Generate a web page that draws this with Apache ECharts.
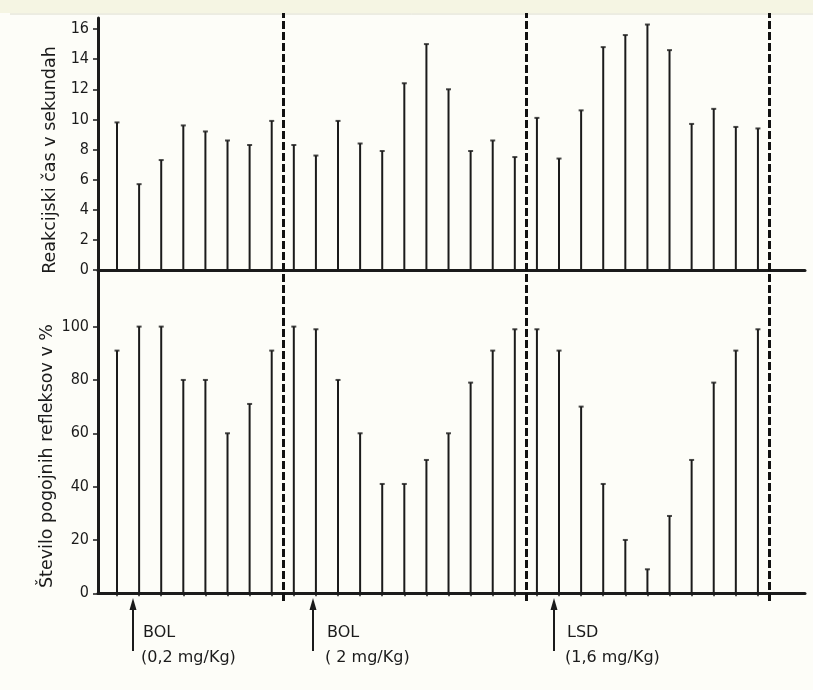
<!DOCTYPE html>
<html><head><meta charset="utf-8">
<script src="https://cdn.jsdelivr.net/npm/echarts@6/dist/echarts.min.js"></script>
<style>html,body{margin:0;padding:0;background:#fdfdf8}#c{width:813px;height:690px}</style>
</head><body><div id="c"></div>
<script>
// trial numbers (one stem per trial)
const trials = [1,2,3,4,5,6,7,8,9,10,11,12,13,14,15,16,17,18,19,20,21,22,23,24,25,26,27,28,29,30];
// Reakcijski čas v sekundah
const reactionTime = [9.8,5.7,7.3,9.6,9.2,8.6,8.3,9.9, 8.3,7.6,9.9,8.4,7.9,12.4,15.0,12.0,7.9,8.6,7.5, 10.1,7.4,10.6,14.8,15.6,16.3,14.6,9.7,10.7,9.5,9.4];
// Število pogojnih refleksov v %
const reflexPct = [91,100,100,80,80,60,71,91, 100,99,80,60,41,41,50,60,79,91,99, 99,91,70,41,20,9,29,50,79,91,99];
// boundaries between treatment phases (between trials)
const phaseBoundaries = [8.5, 19.5, 30.5];
const topTicks = [0,2,4,6,8,10,12,14,16];
const bottomTicks = [0,20,40,60,80,100];
const drugs = ['BOL','BOL','LSD'];
const doses = ['(0,2 mg/Kg)','( 2 mg/Kg)','(1,6 mg/Kg)'];

const ink = '#1b1b1b';
const font = 'DejaVu Sans Condensed';
const X_MIN = 0.14, X_MAX = 32.13;

const chart = echarts.init(document.getElementById('c'), null, {renderer:'canvas'});

function xAx(gi, showLine, ticks){
  return {type:'value', gridIndex:gi, min:X_MIN, max:X_MAX,
    axisLine:{show:showLine, onZero:false, lineStyle:{color:ink, width:3}},
    axisTick:{show:!!ticks, customValues:trials, length:3, lineStyle:{color:ink,width:1.5}},
    axisLabel:{show:false}, splitLine:{show:false}};
}
function yAx(gi, max, ticks){
  return {type:'value', gridIndex:gi, min:0, max:max,
    axisLine:{show:false},
    axisTick:{show:true, customValues:ticks, length:5, lineStyle:{color:ink,width:1.5}},
    axisLabel:{show:true, customValues:ticks, margin:9, color:ink, fontSize:16, fontFamily:font},
    splitLine:{show:false}};
}

const option = {
  backgroundColor:'#fdfdf8',
  animation:false,
  grid:[
    {left:98, right:8, top:18, height:252},
    {left:98, right:8, top:270, height:323.3},
    {left:98, right:8, top:18, height:575.3},
    {left:98, right:8, top:13, height:588}
  ],
  xAxis:[xAx(0,true,false), xAx(1,true,true), xAx(2,false,false), xAx(3,false,false)],
  yAxis:[
    yAx(0, 252/15.06, topTicks),
    yAx(1, 323.3/2.667, bottomTicks),
    {type:'value', gridIndex:2, min:0, max:1, axisLine:{show:true, lineStyle:{color:ink,width:3}}, axisTick:{show:false}, axisLabel:{show:false}, splitLine:{show:false}},
    {type:'value', gridIndex:3, min:0, max:1, show:false}
  ],
  series:[
    {type:'bar', xAxisIndex:0, yAxisIndex:0, barWidth:2, itemStyle:{color:ink},
      data: trials.map((t,i)=>[t, reactionTime[i]])},
    {type:'scatter', xAxisIndex:0, yAxisIndex:0, symbol:'rect', symbolSize:[5,2], itemStyle:{color:ink},
      data: trials.map((t,i)=>[t, reactionTime[i]])},
    {type:'bar', xAxisIndex:1, yAxisIndex:1, barWidth:2, itemStyle:{color:ink},
      data: trials.map((t,i)=>[t, reflexPct[i]])},
    {type:'scatter', xAxisIndex:1, yAxisIndex:1, symbol:'rect', symbolSize:[5,2], itemStyle:{color:ink},
      data: trials.map((t,i)=>[t, reflexPct[i]])},
    {type:'line', xAxisIndex:3, yAxisIndex:3, data:[], silent:true,
      markLine:{silent:true, symbol:['none','none'], label:{show:false},
        lineStyle:{color:'#111', width:3, type:[8,3]},
        data: phaseBoundaries.map(b=>({xAxis:b}))}}
  ],
  graphic:[
    {type:'rect', shape:{x:0,y:0,width:813,height:13}, style:{fill:'#f5f5e3'}, silent:true, z:-10},
    {type:'line', shape:{x1:10,y1:14,x2:813,y2:14}, style:{stroke:'#dcdccb', lineWidth:1}, silent:true},
    {type:'text', x:50, y:160, rotation:Math.PI/2, style:{text:'Reakcijski čas v sekundah', fill:ink, font:'17.5px "DejaVu Sans"', align:'center', verticalAlign:'middle'}},
    {type:'text', x:47, y:456, rotation:Math.PI/2, style:{text:'Število pogojnih refleksov v %', fill:ink, font:'17.5px "DejaVu Sans"', align:'center', verticalAlign:'middle'}}
  ]
};

const arrowX = [133, 313, 554];
const textX = [141, 325, 565];
drugs.forEach((d,i)=>{
  const ax = arrowX[i];
  option.graphic.push(
    {type:'line', shape:{x1:ax,y1:651,x2:ax,y2:606}, style:{stroke:ink, lineWidth:2}},
    {type:'polygon', shape:{points:[[ax-3.5,610],[ax,598],[ax+3.5,610]]}, style:{fill:ink}},
    {type:'text', x:textX[i]+2, y:633, style:{text:d, fill:ink, font:'16px "DejaVu Sans"', verticalAlign:'middle'}},
    {type:'text', x:textX[i], y:658, style:{text:doses[i], fill:ink, font:'16px "DejaVu Sans"', verticalAlign:'middle'}}
  );
});

chart.setOption(option);
</script>
</body></html>
